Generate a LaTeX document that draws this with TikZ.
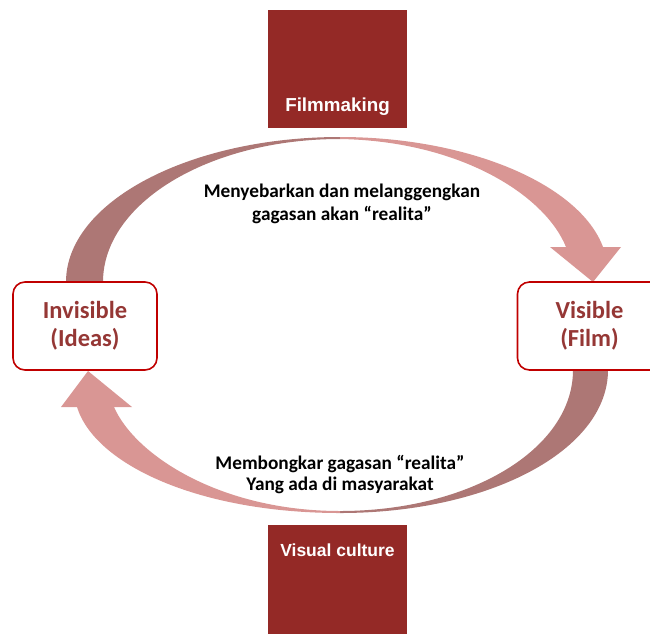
\documentclass[tikz,border=0pt]{standalone}
\usepackage{fontspec}
\setmainfont{Carlito}
\newfontfamily\arialfont{Liberation Sans}
\usetikzlibrary{positioning}
\definecolor{maroon538}{RGB}{148,41,38}
\definecolor{redline}{RGB}{192,0,0}
\definecolor{ideared}{RGB}{149,55,53}
\definecolor{armdark}{RGB}{173,119,117}
\definecolor{armlight}{RGB}{217,150,148}

\begin{document}
\begin{tikzpicture}[
          x = 1pt, y = -1pt,
          inner sep = 0, outer sep = 0
        ]
          \tikzstyle {stage} = [fill = maroon538, minimum width = 139pt]
          \tikzstyle {stagetext} = [text = white, font = \arialfont\bfseries\fontsize{17.5}{20}\selectfont]
          \tikzstyle {realm} = [draw = redline, line width = 1.6pt, rounded corners = 12pt, fill = white,
            minimum width = 144pt, minimum height = 88pt, text = ideared, align = center,
            font = \bfseries\fontsize{24.5}{28}\selectfont]
          \tikzstyle {caption} = [align = center, font = \bfseries\fontsize{19.3}{23}\selectfont]
          \clip (0,0) rectangle (650,633);
          % place the two stages
          \path node (making) [stage, minimum height = 118pt] at (337.5,69) {};
          \path node (culture) [stage, minimum height = 120pt] at (337.5,585) {};
          \node (makinglabel) [stagetext, font = \arialfont\bfseries\fontsize{18.8}{20}\selectfont,
            above = 17pt of making.south, anchor = base] {Filmmaking};
          \node (culturelabel) [stagetext, below = 31pt of culture.north, anchor = base] {Visual culture};
          % curved arrows
          \fill [armdark] (340,137) .. controls (189,137) and (66,202) .. (66,282)
            -- (103,282) .. controls (103,203) and (209,139) .. (340,139) -- cycle;
          \fill [armlight] (340,137) .. controls (470,137) and (580,185) .. (603,247)
            -- (621,247) -- (593,282) -- (550,247) -- (566,247)
            .. controls (545,195) and (460,141) .. (340,139) -- cycle;
          \fill [armdark] (340,513) .. controls (490,513) and (608,450) .. (608,370)
            -- (573,370) .. controls (573,449) and (470,511) .. (340,511) -- cycle;
          \fill [armlight] (340,513) .. controls (200,513) and (95,465) .. (77,407)
            -- (61,407) -- (88,371) -- (132,407) -- (114,407)
            .. controls (135,455) and (220,511) .. (340,511) -- cycle;
          % place the two realms
          \path node (ideas) [realm] at (85,326) {Invisible\\(Ideas)};
          \path node (film) [realm] at (589.5,326) {Visible\\(Film)};
          % texts inside the cycle
          \node (spread) [caption] at (342,204) {Menyebarkan dan melanggengkan\\gagasan akan “realita”};
          \node (unpack) [caption, font = \bfseries\fontsize{19.3}{21}\selectfont] at (340,474)
            {Membongkar gagasan “realita”\\Yang ada di masyarakat};
        \end{tikzpicture}
\end{document}
